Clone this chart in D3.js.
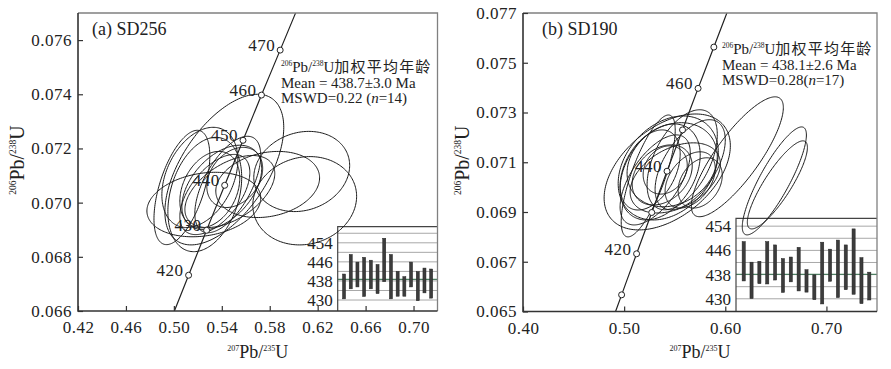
<!DOCTYPE html>
<html>
<head>
<meta charset="utf-8">
<script src="https://cdn.jsdelivr.net/npm/d3@7"></script>
<style>
  body { margin: 0; background: #fff; }
</style>
</head>
<body>
<svg id="chart" width="891" height="369"></svg>
<script>
// 谐和线 (年龄 Ma, 207Pb/235U, 206Pb/238U)
const concAge = [400, 410, 420, 430, 440, 450, 460, 470, 480, 490]
const concX = [0.4828, 0.4975, 0.5123, 0.5273, 0.5424, 0.5577, 0.5731, 0.5887, 0.6044, 0.6202]
const concY = [0.06402, 0.06567, 0.06732, 0.06898, 0.07064, 0.07230, 0.07397, 0.07563, 0.07730, 0.07897]

// SD256 误差椭圆: 中心, 半宽, 相关系数
const sd256X = [0.5421, 0.6067, 0.6092, 0.5783, 0.5250, 0.5067, 0.5258, 0.5400, 0.5342, 0.5450, 0.5300, 0.5508, 0.5467, 0.5217]
const sd256SX = [0.0496, 0.0400, 0.0433, 0.0433, 0.0475, 0.0233, 0.0308, 0.0333, 0.0292, 0.0275, 0.0250, 0.0233, 0.0375, 0.0317]
const sd256Y = [0.07122, 0.07115, 0.07007, 0.07067, 0.06993, 0.07056, 0.07030, 0.07056, 0.07030, 0.07067, 0.07048, 0.07093, 0.07041, 0.07093]
const sd256SY = [0.00278, 0.00148, 0.00163, 0.00122, 0.00119, 0.00211, 0.00211, 0.00156, 0.00148, 0.00178, 0.00141, 0.00111, 0.00133, 0.00185]
const sd256Rho = [0.56, 0.15, 0.1, 0.2, 0.2, 0.55, 0.3, 0.45, 0.55, 0.6, 0.3, 0.3, 0.5, 0.35]
// SD256 206Pb/238U 年龄
const sd256Age = [435.7, 441.9, 440.7, 439.7, 440.7, 438.8, 446.8, 439.8, 436.8, 435.7, 440.7, 435.8, 438.2, 436.9]
const sd256Err = [5.2, 7.2, 5.2, 8.2, 6.0, 6.1, 9.1, 9.3, 5.2, 4.1, 5.2, 6.1, 5.2, 6.1]
const sd256Mean = 438.7

// SD190
const sd190X = [0.5426, 0.5238, 0.6119, 0.6485, 0.6515, 0.5436, 0.5356, 0.5475, 0.5376, 0.5406, 0.5653, 0.5752, 0.5307, 0.5574, 0.5257, 0.5505, 0.5653]
const sd190SX = [0.0624, 0.0267, 0.0455, 0.0317, 0.0297, 0.0495, 0.0396, 0.0446, 0.0297, 0.0218, 0.0248, 0.0218, 0.0347, 0.0347, 0.0297, 0.0446, 0.0347]
const sd190Y = [0.07061, 0.07045, 0.07122, 0.07025, 0.07009, 0.07077, 0.07061, 0.07090, 0.07049, 0.07069, 0.07029, 0.07017, 0.07029, 0.07110, 0.07069, 0.07037, 0.07090]
const sd190SY = [0.00233, 0.00245, 0.00241, 0.00217, 0.00177, 0.00209, 0.00193, 0.00169, 0.00121, 0.00097, 0.00113, 0.00101, 0.00181, 0.00201, 0.00161, 0.00141, 0.00181]
const sd190Rho = [0.45, 0.75, 0.82, 0.85, 0.85, 0.3, 0.35, 0.2, 0.3, 0.2, 0.4, 0.3, 0.6, 0.5, 0.4, 0.4, 0.55]
const sd190Age = [442.4, 436.1, 438.7, 441.9, 442.0, 437.7, 439.7, 439.8, 435.9, 433.8, 438.5, 441.1, 439.9, 440.4, 442.3, 436.0, 434.2]
const sd190Err = [6.5, 6.0, 3.7, 7.0, 5.8, 5.6, 4.1, 7.2, 3.7, 4.1, 10.2, 5.3, 9.5, 7.4, 10.8, 7.6, 4.6]
const sd190Mean = 438.1

// 刻度
const xTicksA = [0.42, 0.46, 0.50, 0.54, 0.58, 0.62, 0.66, 0.70]
const yTicksA = [0.066, 0.068, 0.070, 0.072, 0.074, 0.076]
const xTicksB = [0.40, 0.50, 0.60, 0.70]
const yTicksB = [0.065, 0.067, 0.069, 0.071, 0.073, 0.075, 0.077]
const insetTicks = [430, 438, 446, 454]
const insetGridA = [430, 434, 438, 442, 446, 450, 454, 458]
const insetGridB = [430, 434, 438, 442, 446, 450, 454]

// 谐和线上的点与标注
const marksA = [420, 430, 440, 450, 460, 470]
const labelsA = [420, 430, 440, 450, 460, 470]
const marksB = [410, 420, 430, 440, 450, 460, 470]
const labelsB = [420, 440, 460]

const FONT = '"Liberation Serif", "Noto Sans CJK SC", serif'
const INK = '#222'

/**
 * 带上标的同位素文字, parts: [文字, 是否上标]
 */
function isoText(text, parts, size, supSize) {
  const shift = size * 0.4
  let up = false
  parts.forEach(([s, sup]) => {
    const t = text.append('tspan').text(s)
    if (sup) {
      t.attr('font-size', supSize).attr('dy', up ? 0 : -shift)
      up = true
    } else {
      t.attr('font-size', size).attr('dy', up ? shift : 0)
      up = false
    }
  })
}

/**
 * 右下角年龄柱状图
 */
function drawInset(g, opt) {
  const yi = d3.scaleLinear().domain(opt.domain).range([opt.bottom, opt.top])
  const band = d3.scaleBand().domain(d3.range(opt.age.length))
    .range([opt.left, opt.right]).paddingInner(opt.padIn).paddingOuter(opt.padOut)

  g.append('rect')
    .attr('x', opt.left).attr('y', opt.top)
    .attr('width', opt.right - opt.left).attr('height', opt.bottom - opt.top)
    .attr('fill', '#fff')

  g.selectAll('line.grid').data(opt.grid).enter()
    .append('line').classed('grid', true)
    .attr('x1', opt.left).attr('x2', opt.right)
    .attr('y1', d => yi(d)).attr('y2', d => yi(d))
    .attr('stroke', '#a8a8a8').attr('stroke-width', 1)

  g.append('line')
    .attr('x1', opt.left).attr('x2', opt.right)
    .attr('y1', yi(opt.mean)).attr('y2', yi(opt.mean))
    .attr('stroke', '#4e7f62').attr('stroke-width', 1.2)

  g.selectAll('rect.bar').data(opt.age).enter()
    .append('rect').classed('bar', true)
    .attr('x', (d, i) => band(i))
    .attr('width', band.bandwidth())
    .attr('y', (d, i) => yi(d + opt.err[i]))
    .attr('height', (d, i) => yi(d - opt.err[i]) - yi(d + opt.err[i]))
    .attr('fill', '#3c3c3c')
    .attr('stroke', '#222').attr('stroke-width', 0.5)

  g.append('path')
    .attr('d', `M${opt.left} ${opt.bottom}V${opt.top}H${opt.right}`)
    .attr('fill', 'none').attr('stroke', '#444').attr('stroke-width', 1.2)

  g.selectAll('text.inset-tick').data(opt.ticks).enter()
    .append('text').classed('inset-tick', true)
    .attr('x', opt.left - 5)
    .attr('y', d => yi(d))
    .attr('dy', '0.35em')
    .attr('text-anchor', 'end')
    .attr('font-size', 17)
    .attr('fill', INK)
    .text(d => d)
}

/**
 * 绘制一个谐和图
 */
function drawPanel(svg, opt) {
  const x = d3.scaleLinear().domain(opt.xDomain).range([opt.left, opt.right])
  const y = d3.scaleLinear().domain(opt.yDomain).range([opt.bottom, opt.top])
  const g = svg.append('g').attr('font-family', FONT)
  const clipId = 'clip-' + opt.key

  svg.append('clipPath').attr('id', clipId)
    .append('rect')
    .attr('x', opt.left).attr('y', opt.top)
    .attr('width', opt.right - opt.left).attr('height', opt.bottom - opt.top)

  // 年龄柱状图
  g.append('g').call(drawInset, {
    left: opt.insetLeft, top: opt.insetTop, right: opt.right, bottom: opt.bottom,
    domain: opt.insetDomain, age: opt.age, err: opt.err, mean: opt.mean,
    grid: opt.insetGrid, ticks: insetTicks, padIn: opt.padIn, padOut: opt.padOut
  })

  const plot = g.append('g').attr('clip-path', `url(#${clipId})`)

  // 误差椭圆
  const steps = d3.range(0, 2 * Math.PI, Math.PI / 90)
  const line = d3.line().x(d => x(d[0])).y(d => y(d[1])).curve(d3.curveLinearClosed)
  const ellipses = opt.ex.map((cx, i) => {
    const sx = opt.esx[i]
    const cy = opt.ey[i]
    const sy = opt.esy[i]
    const rho = opt.erho[i]
    const k = Math.sqrt(1 - rho * rho)
    return steps.map(t => [cx + sx * Math.cos(t), cy + sy * (rho * Math.cos(t) + k * Math.sin(t))])
  })
  plot.selectAll('path.ellipse').data(ellipses).enter()
    .append('path').classed('ellipse', true)
    .attr('d', line)
    .attr('fill', 'none').attr('stroke', '#1a1a1a').attr('stroke-width', 1)

  // 谐和线
  const conc = concAge.map((a, i) => [concX[i], concY[i]])
  plot.append('path')
    .attr('d', d3.line().x(d => x(d[0])).y(d => y(d[1])).curve(d3.curveCatmullRom)(conc))
    .attr('fill', 'none').attr('stroke', INK).attr('stroke-width', 1.2)

  const idx = a => concAge.indexOf(a)
  g.selectAll('text.age').data(opt.labels).enter()
    .append('text').classed('age', true)
    .attr('x', d => x(concX[idx(d)]) - 5)
    .attr('y', d => y(concY[idx(d)]) + 1)
    .attr('text-anchor', 'end')
    .attr('font-size', 17).attr('letter-spacing', 0.5)
    .attr('fill', INK)
    .text(d => d)

  plot.selectAll('circle.mark').data(opt.marks).enter()
    .append('circle').classed('mark', true)
    .attr('cx', d => x(concX[idx(d)]))
    .attr('cy', d => y(concY[idx(d)]))
    .attr('r', 3)
    .attr('fill', '#fff').attr('stroke', INK).attr('stroke-width', 1)

  // 外框
  g.append('path')
    .attr('d', `M${opt.left} ${opt.top}H${opt.right}V${opt.bottom}`)
    .attr('fill', 'none').attr('stroke', '#808080').attr('stroke-width', 1.3)

  // 坐标轴
  const styleAxis = s => {
    s.attr('font-family', FONT)
    s.select('.domain').remove()
    s.selectAll('.tick line').attr('stroke', '#333').attr('stroke-width', 1.2)
    s.selectAll('.tick text').attr('font-size', 17).attr('letter-spacing', 0.5).attr('fill', INK)
  }
  g.append('g')
    .attr('transform', `translate(0,${opt.bottom})`)
    .call(d3.axisBottom(x).tickValues(opt.xTicks).tickFormat(d3.format('.2f'))
      .tickSizeInner(-5).tickSizeOuter(0).tickPadding(10))
    .call(styleAxis)
  g.append('g')
    .attr('transform', `translate(${opt.left},0)`)
    .call(d3.axisLeft(y).tickValues(opt.yTicks).tickFormat(d3.format('.3f'))
      .tickSizeInner(-5).tickSizeOuter(0).tickPadding(6))
    .call(styleAxis)

  g.append('path')
    .attr('d', `M${opt.left} ${opt.top}V${opt.bottom}H${opt.right}`)
    .attr('fill', 'none').attr('stroke', '#333').attr('stroke-width', 1.6)

  // 轴标题
  const xl = g.append('text')
    .attr('x', (opt.left + opt.right) / 2).attr('y', 358)
    .attr('text-anchor', 'middle').attr('fill', INK)
  isoText(xl, [['207', true], ['Pb/', false], ['235', true], ['U', false]], 18, 8)

  const yl = g.append('text')
    .attr('transform', `translate(${opt.left - 54},${(opt.top + opt.bottom) / 2 - 2}) rotate(-90)`)
    .attr('text-anchor', 'middle').attr('fill', INK)
  isoText(yl, [['206', true], ['Pb/', false], ['238', true], ['U', false]], 20, 9.5)

  // 标题与说明
  g.append('text')
    .attr('x', opt.titleX).attr('y', 35)
    .attr('font-size', 18).attr('fill', INK)
    .text(opt.title)

  const n1 = g.append('text').attr('x', opt.noteX).attr('y', opt.noteY).attr('fill', INK)
  isoText(n1, [['206', true], ['Pb/', false], ['238', true], ['U', false]], 15, 7.5)
  n1.append('tspan').attr('font-size', 15).attr('letter-spacing', 1.2).text('加权平均年龄')

  g.append('text')
    .attr('x', opt.noteX).attr('y', opt.noteY + 15.5)
    .attr('font-size', 15).attr('fill', INK)
    .text(opt.meanText)

  const n3 = g.append('text')
    .attr('x', opt.noteX).attr('y', opt.noteY + 31)
    .attr('font-size', 15).attr('fill', INK)
  n3.append('tspan').text(opt.mswd[0])
  n3.append('tspan').attr('font-style', 'italic').text(opt.mswd[1])
  n3.append('tspan').text(opt.mswd[2])
}

const svg = d3.select('#chart')

svg.call(drawPanel, {
  key: 'a', left: 78, right: 437.5, top: 13, bottom: 311,
  xDomain: [0.42, 0.72], yDomain: [0.066, 0.077],
  xTicks: xTicksA, yTicks: yTicksA,
  ex: sd256X, esx: sd256SX, ey: sd256Y, esy: sd256SY, erho: sd256Rho,
  marks: marksA, labels: labelsA,
  insetLeft: 337.7, insetTop: 226.7, insetDomain: [425.4, 460.75], insetGrid: insetGridA,
  age: sd256Age, err: sd256Err, mean: sd256Mean, padIn: 0.55, padOut: 0.72,
  title: '(a) SD256', titleX: 92,
  noteX: 281, noteY: 72,
  meanText: 'Mean = 438.7±3.0 Ma', mswd: ['MSWD=0.22 (', 'n', '=14)']
})

svg.call(drawPanel, {
  key: 'b', left: 523, right: 877, top: 13, bottom: 311.5,
  xDomain: [0.40, 0.75], yDomain: [0.065, 0.077],
  xTicks: xTicksB, yTicks: yTicksB,
  ex: sd190X, esx: sd190SX, ey: sd190Y, esy: sd190SY, erho: sd190Rho,
  marks: marksB, labels: labelsB,
  insetLeft: 736, insetTop: 218.3, insetDomain: [425.8, 456.6], insetGrid: insetGridB,
  age: sd190Age, err: sd190Err, mean: sd190Mean, padIn: 0.6, padOut: 0.78,
  title: '(b) SD190', titleX: 542,
  noteX: 722, noteY: 54,
  meanText: 'Mean = 438.1±2.6 Ma', mswd: ['MSWD=0.28(', 'n', '=17)']
})
</script>
</body>
</html>
